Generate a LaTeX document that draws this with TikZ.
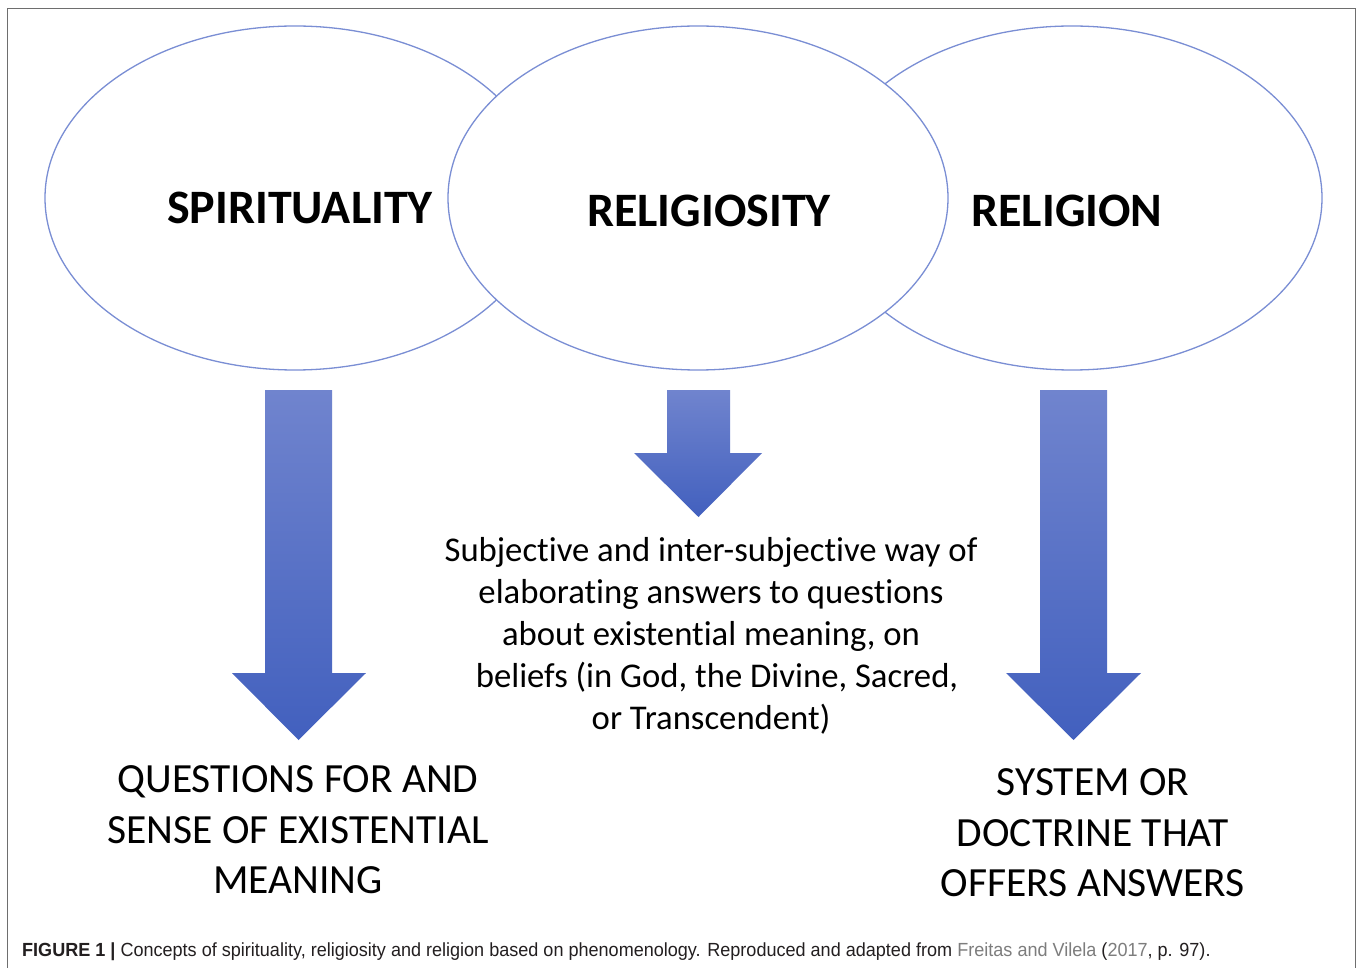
\documentclass[tikz,border=0pt]{standalone}
\usepackage{fontspec}
\setmainfont[Ligatures=NoCommon]{Carlito}
\newfontfamily\capfont[FakeStretch=0.95]{Liberation Sans}
\usetikzlibrary{shapes.geometric}
\definecolor{ellblue}{RGB}{122,142,212}
\definecolor{arrtop}{RGB}{112,132,206}
\definecolor{arrbot}{RGB}{66,96,190}
\definecolor{framegray}{RGB}{110,110,110}
\definecolor{capblack}{RGB}{35,31,32}
\definecolor{capgray}{RGB}{125,125,125}
\begin{document}
\begin{tikzpicture}[x=1pt,y=-1pt]
\tikzstyle{every node}+=[inner sep=0pt]
\tikzstyle{ellip}=[ellipse,draw=ellblue,line width=1.3pt,fill=white,minimum width=500pt,minimum height=344pt]
\tikzstyle{bigarrow}=[top color=arrtop,bottom color=arrbot,draw=none]
\tikzstyle{title}=[font=\bfseries\fontsize{48}{56}\selectfont]
\tikzstyle{caps}=[align=center,font=\fontsize{41.5}{50.5}\selectfont]
\useasboundingbox (0,0) rectangle (1358,968);
\fill [white] (0,0) rectangle (1358,968);
\draw [framegray,line width=1.1pt] (7.5,8.5) rectangle (1355.5,990);
% the three ovals, middle one on top
\node [ellip] (spir) at (295,198) {};
\node [ellip] (reln) at (1072,198) {};
\node [ellip] (rsty) at (698,198) {};
\node [title] (spirlbl) at (300,208) {SPIRITUALITY};
\node [title] (rstylbl) at (709,211) {RELIGIOSITY};
\node [title] (relnlbl) at (1067,211) {RELIGION};
% block arrows
\coordinate (a1) at (298.5,390);
\coordinate (a2) at (698.5,390);
\coordinate (a3) at (1073.5,390);
\shade [bigarrow] (a1) ++(-33.5,0) -- ++(67,0) -- ++(0,283) -- ++(34,0) -- (298.5,740) -- (232,673) -- (265,673) -- cycle;
\shade [bigarrow] (a2) ++(-31.5,0) -- ++(63,0) -- ++(0,63) -- ++(32,0) -- (698.5,517) -- (634,453) -- (667,453) -- cycle;
\shade [bigarrow] (a3) ++(-33.5,0) -- ++(67,0) -- ++(0,283) -- ++(34,0) -- (1073.5,740) -- (1006,673) -- (1040,673) -- cycle;
% texts below
\node [align=center,font=\fontsize{34.7}{42}\selectfont] (rstytxt) at (711,636)
  {Subjective and inter-subjective way of\\elaborating answers to questions\\about existential meaning, on\\\hspace*{12pt}beliefs (in God, the Divine, Sacred,\\or Transcendent)};
\node [caps] (spirtxt) at (298,830) {QUESTIONS FOR AND\\SENSE OF EXISTENTIAL\\MEANING};
\node [caps] (relntxt) at (1093,833) {SYSTEM OR\\DOCTRINE THAT\\OFFERS ANSWERS};
% caption
\node [anchor=base west,font=\capfont\fontsize{19}{22}\selectfont,text=capblack] (cap) at (22,956)
  {\textbf{FIGURE 1 |} Concepts of spirituality, religiosity and religion based on phenomenology. Reproduced and adapted from \textcolor{capgray}{Freitas and Vilela} (\textcolor{capgray}{2017}, p. 97).};
\end{tikzpicture}
\end{document}
